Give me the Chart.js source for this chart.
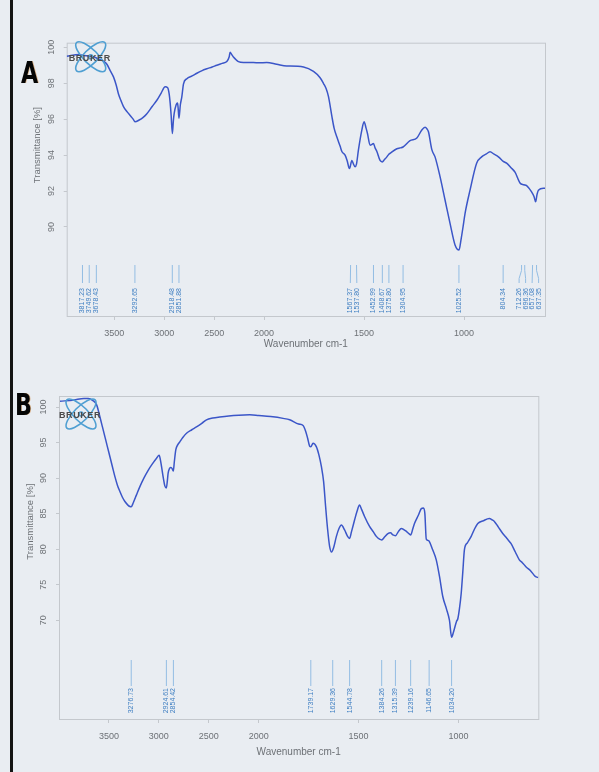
<!DOCTYPE html>
<html>
<head>
<meta charset="utf-8">
<script src="https://cdn.jsdelivr.net/npm/chart.js@4/dist/chart.umd.min.js"></script>
<style>
  html, body { margin: 0; padding: 0; }
  body { width: 599px; height: 772px; background: #e9edf2; position: relative; overflow: hidden;
         font-family: 'Liberation Sans', Arial, sans-serif; }
  .edge { position: absolute; left: 10px; top: 0; width: 3px; height: 772px; background: #141414; }
  .panel { position: absolute; left: 0; width: 599px; }
  #boxA { top: 0; height: 380px; }
  #boxB { top: 380px; height: 392px; }
  .letter { position: absolute; font-family: 'DejaVu Sans', sans-serif; font-weight: bold; font-size: 30px;
            line-height: 30px; color: #050505; transform: scaleX(0.74); transform-origin: left top;
            text-shadow: 1px 0 0 rgba(205,130,50,0.55); }
</style>
</head>
<body>
<div class="edge"></div>
<div class="panel" id="boxA"><canvas id="chartA"></canvas></div>
<div class="panel" id="boxB"><canvas id="chartB"></canvas></div>
<div class="letter" style="left:21px; top:58px;">A</div>
<div class="letter" style="left:15px; top:390px;">B</div>
<script>
// ---- data ----
const waveA = [3975, 3850, 3817, 3749, 3700, 3678, 3640, 3600, 3573, 3540,
  3507, 3480, 3457, 3430, 3407, 3370, 3340, 3310, 3292, 3250,
  3210, 3173, 3120, 3073, 3030, 2990, 2965, 2950, 2940, 2930,
  2918, 2908, 2900, 2880, 2866, 2860, 2852, 2838, 2823, 2807,
  2773, 2720, 2673, 2620, 2573, 2520, 2473, 2420, 2373, 2350,
  2340, 2325, 2307, 2280, 2257, 2207, 2150, 2107, 2050, 1987,
  1937, 1887, 1870, 1803, 1753, 1720, 1703, 1690, 1678, 1661,
  1650, 1636, 1620, 1611, 1595, 1585, 1573, 1561, 1553, 1545,
  1538, 1528, 1511, 1500, 1490, 1483, 1470, 1460, 1453, 1445,
  1436, 1420, 1409, 1398, 1386, 1376, 1370, 1336, 1320, 1305,
  1270, 1236, 1211, 1195, 1185, 1178, 1161, 1145, 1120, 1095,
  1070, 1045, 1025, 1015, 1005, 995, 970, 937, 912, 890,
  870, 850, 828, 804, 787, 765, 745, 720, 701, 687,
  662, 650, 642, 635, 628, 603, 595];
const transA = [99.5, 99.6, 99.55, 99.5, 99.45, 99.4, 99.3, 99.2, 99.05, 98.7,
  98.35, 97.9, 97.4, 97.0, 96.7, 96.4, 96.2, 96.0, 95.85, 95.95,
  96.1, 96.3, 96.7, 97.05, 97.45, 97.8, 97.75, 97.4, 96.9, 96.2,
  95.2, 95.9, 96.3, 96.8, 96.9, 96.6, 96.05, 96.8, 97.25, 97.95,
  98.25, 98.4, 98.55, 98.7, 98.8, 98.9, 99.0, 99.1, 99.2, 99.45,
  99.72, 99.6, 99.45, 99.3, 99.2, 99.15, 99.15, 99.15, 99.13, 99.15,
  99.05, 98.95, 98.95, 98.9, 98.65, 98.3, 97.98, 97.7, 97.25, 96.15,
  95.5, 95.0, 94.5, 94.2, 94.0, 93.7, 93.25, 93.7, 93.5, 93.35,
  93.5, 94.3, 95.4, 95.85, 95.5, 95.2, 94.55, 94.6, 94.65, 94.4,
  94.2, 93.7, 93.62, 93.75, 93.9, 94.05, 94.1, 94.35, 94.4, 94.45,
  94.8, 94.95, 95.4, 95.55, 95.45, 95.3, 94.3, 93.9, 92.8, 91.5,
  90.2, 89.0, 88.72, 89.3, 90.0, 90.75, 92.05, 93.55, 93.9, 94.05,
  94.18, 94.05, 93.9, 93.65, 93.55, 93.3, 93.05, 92.45, 92.35, 92.3,
  91.95, 91.7, 91.4, 91.8, 92.05, 92.15, 92.15];

const waveB = [3990, 3850, 3750, 3707, 3660, 3623, 3590, 3565, 3540, 3515,
  3490, 3465, 3440, 3415, 3390, 3365, 3340, 3310, 3290, 3277,
  3257, 3225, 3190, 3150, 3107, 3065, 3023, 2997, 2985, 2973,
  2955, 2940, 2925, 2915, 2907, 2895, 2883, 2870, 2855, 2845,
  2830, 2810, 2790, 2760, 2723, 2670, 2623, 2570, 2523, 2460,
  2390, 2300, 2200, 2090, 2000, 1940, 1878, 1845, 1800, 1778,
  1765, 1755, 1745, 1739, 1728, 1711, 1698, 1686, 1675, 1665,
  1655, 1645, 1635, 1625, 1611, 1598, 1586, 1570, 1555, 1545,
  1535, 1520, 1508, 1495, 1485, 1470, 1445, 1425, 1411, 1395,
  1384, 1370, 1353, 1340, 1328, 1315, 1300, 1286, 1265, 1245,
  1239, 1228, 1220, 1200, 1186, 1175, 1168, 1161, 1150, 1146,
  1130, 1111, 1095, 1078, 1060, 1045, 1034, 1025, 1010, 1003,
  995, 986, 978, 970, 955, 936, 920, 903, 875, 845,
  830, 820, 800, 778, 757, 737, 715, 695, 680, 661,
  640, 620, 611, 600];
const transB = [100.8, 101.0, 101.2, 101.2, 100.9, 100.3, 98.6, 97.2, 95.8, 94.4,
  93.0, 91.6, 90.2, 89.0, 88.1, 87.3, 86.7, 86.2, 86.0, 85.95,
  86.5, 87.6, 88.8, 90.0, 91.1, 92.0, 92.8, 93.2, 92.6, 91.6,
  90.0, 88.9, 88.6, 89.6, 90.7, 91.3, 91.5, 91.4, 91.0, 92.3,
  94.0, 94.7, 95.1, 95.7, 96.3, 96.8, 97.2, 97.7, 98.2, 98.45,
  98.6, 98.75, 98.85, 98.9, 98.8, 98.65, 98.4, 98.2, 97.6, 97.4,
  96.6, 95.6, 94.5, 94.4, 94.9, 94.4, 93.2, 91.6, 89.5, 86.0,
  82.8, 80.4, 79.6, 80.2, 81.8, 82.9, 83.4, 82.7, 81.8, 81.5,
  82.5, 84.1, 85.3, 86.2, 85.6, 84.6, 83.2, 82.4, 81.8, 81.4,
  81.3, 81.7, 82.2, 82.3, 82.0, 81.9, 82.5, 82.9, 82.6, 82.1,
  82.0, 82.9, 83.6, 84.8, 85.7, 85.8, 85.0, 81.4, 81.2, 81.1,
  80.0, 78.5, 76.2, 73.3, 71.6, 70.0, 67.6, 68.3, 69.8, 70.2,
  71.6, 73.8, 76.8, 79.9, 80.9, 81.8, 82.8, 83.6, 84.0, 84.3,
  84.1, 83.9, 83.1, 82.2, 81.5, 80.8, 79.6, 78.5, 78.1, 77.5,
  77.0, 76.3, 76.1, 76.0];

const peaksA = [3817.23, 3749.62, 3678.43, 3292.65, 2918.48, 2851.88, 1567.37, 1537.80,
  1452.99, 1408.67, 1375.80, 1304.95, 1025.52, 804.34, 712.26, 696.36, 657.08, 637.35];
const peaksB = [3276.73, 2924.61, 2854.42, 1739.17, 1629.36, 1544.78, 1384.26, 1315.39,
  1239.16, 1146.65, 1034.20];

const xTicks = [3500, 3000, 2500, 2000, 1500, 1000];
const yTicksA = [90, 92, 94, 96, 98, 100];
const yTicksB = [70, 75, 80, 85, 90, 95, 100];

// Bruker plots are stretched 2x below 2000 cm-1
const BREAK = 2000;
class WaveScale extends Chart.LinearScale {
  units(v) { return v >= BREAK ? this.max - v : (this.max - BREAK) + 2 * (BREAK - v); }
  getPixelForValue(v) { return this.getPixelForDecimal(this.units(v) / this.units(this.min)); }
  getValueForPixel(p) {
    const u = this.getDecimalForPixel(p) * this.units(this.min);
    const hi = this.max - BREAK;
    return u <= hi ? this.max - u : BREAK - (u - hi) / 2;
  }
}
WaveScale.id = 'wavenumber';
WaveScale.defaults = Chart.LinearScale.defaults;
Chart.register(WaveScale);

const tickGrey = '#6d7176';
const fontFam = "'Liberation Sans', Arial, sans-serif";

function spreadLabels(xs, gap) {
  let groups = xs.map(x => [x]);
  const place = g => {
    const c = g.reduce((a, b) => a + b, 0) / g.length;
    return g.map((_, i) => c + (i - (g.length - 1) / 2) * gap);
  };
  let merged = true;
  while (merged) {
    merged = false;
    for (let i = 0; i < groups.length - 1; i++) {
      const a = place(groups[i]), b = place(groups[i + 1]);
      if (b[0] - a[a.length - 1] < gap - 0.01) {
        groups.splice(i, 2, groups[i].concat(groups[i + 1]));
        merged = true;
        break;
      }
    }
  }
  return groups.flatMap(place);
}

function makeChart(id, waves, trans, peaks, yTicks, cfg) {
  const decor = {
    id: 'decor',
    beforeDatasetsDraw(chart) {
      const { ctx, chartArea: a } = chart;
      ctx.save();
      ctx.strokeStyle = '#c4c8cd';
      ctx.lineWidth = 1;
      ctx.strokeRect(a.left + 0.5, a.top + 0.5, a.right - a.left, a.bottom - a.top);
      ctx.restore();
    },
    afterDatasetsDraw(chart) {
      const { ctx, chartArea: a, scales } = chart;
      const x = scales.x, y = scales.y;
      ctx.save();
      // peak markers
      const px = peaks.map(p => x.getPixelForValue(p));
      const lx = spreadLabels(px, 6.5);
      const y0 = a.bottom - cfg.lineTop, y3 = a.bottom - cfg.lineBottom;
      ctx.strokeStyle = '#93bde3';
      ctx.lineWidth = 1;
      ctx.fillStyle = '#3f7fc2';
      ctx.font = '7px ' + fontFam;
      ctx.textAlign = 'right';
      ctx.textBaseline = 'middle';
      peaks.forEach((p, i) => {
        ctx.beginPath();
        ctx.moveTo(px[i], y0);
        if (Math.abs(lx[i] - px[i]) > 0.5) {
          ctx.lineTo(px[i], y0 + (y3 - y0) * 0.3);
          ctx.lineTo(lx[i], y0 + (y3 - y0) * 0.75);
        }
        ctx.lineTo(lx[i], y3);
        ctx.stroke();
        ctx.save();
        ctx.translate(lx[i], a.bottom - cfg.textTop);
        ctx.rotate(-Math.PI / 2);
        ctx.fillText(p.toFixed(2), 0, 0);
        ctx.restore();
      });
      // Bruker logo
      const cx = a.left + cfg.logo[0], cy = a.top + cfg.logo[1];
      ctx.strokeStyle = '#4f9fd2';
      ctx.lineWidth = 1.6;
      [Math.PI / 4, -Math.PI / 4].forEach(ang => {
        ctx.beginPath();
        ctx.ellipse(cx, cy, 20, 7, ang, 0, Math.PI * 2);
        ctx.stroke();
      });
      ctx.beginPath();
      ctx.arc(cx, cy, 2, 0, Math.PI * 2);
      ctx.stroke();
      ctx.fillStyle = '#4b4b4b';
      ctx.font = 'bold 9px ' + fontFam;
      ctx.textAlign = 'center';
      ctx.letterSpacing = '0.6px';
      ctx.fillText('BRUKER', cx - 1, cy + 2);
      ctx.letterSpacing = '0px';
      // rotated y tick labels and title
      ctx.fillStyle = tickGrey;
      ctx.font = '9px ' + fontFam;
      yTicks.forEach(v => {
        ctx.save();
        ctx.translate(a.left - 15.5, y.getPixelForValue(v));
        ctx.rotate(-Math.PI / 2);
        ctx.fillText(String(v), 0, 0);
        ctx.restore();
      });
      const mid = (y.getPixelForValue(yTicks[0]) + y.getPixelForValue(yTicks[yTicks.length - 1])) / 2 + 8;
      ctx.save();
      ctx.translate(a.left - 29, mid);
      ctx.rotate(-Math.PI / 2);
      ctx.font = '9.5px ' + fontFam;
      ctx.fillText('Transmittance [%]', 0, 0);
      ctx.restore();
      ctx.restore();
    }
  };

  return new Chart(document.getElementById(id), {
    type: 'line',
    data: {
      datasets: [{
        data: waves.map((w, i) => ({ x: w, y: trans[i] })),
        borderColor: '#3b56c8',
        borderWidth: 1.5,
        pointRadius: 0,
        cubicInterpolationMode: 'monotone',
        fill: false
      }]
    },
    options: {
      responsive: true,
      maintainAspectRatio: false,
      animation: false,
      layout: { padding: cfg.padding },
      plugins: { legend: { display: false }, tooltip: { enabled: false } },
      scales: {
        x: {
          type: 'wavenumber',
          min: cfg.xMin,
          max: cfg.xMax,
          afterBuildTicks: s => { s.ticks = xTicks.map(v => ({ value: v })); },
          afterFit: s => { s.height = cfg.xHeight; },
          grid: { drawOnChartArea: false, tickLength: 4, color: '#c4c8cd' },
          border: { display: false },
          ticks: { color: tickGrey, font: { size: 9, family: fontFam }, padding: 8,
                   maxRotation: 0, autoSkip: false, callback: v => String(v) },
          title: { display: true, text: 'Wavenumber cm-1', color: tickGrey,
                   font: { size: 10, family: fontFam }, padding: { top: 4, bottom: 4 } }
        },
        y: {
          min: cfg.yMin,
          max: cfg.yMax,
          afterBuildTicks: s => { s.ticks = yTicks.map(v => ({ value: v })); },
          afterFit: s => { s.width = cfg.yWidth; },
          grid: { drawOnChartArea: false, tickLength: 3, color: '#c4c8cd' },
          border: { display: false },
          ticks: { display: false }
        }
      }
    },
    plugins: [decor]
  });
}

makeChart('chartA', waveA, transA, peaksA, yTicksA, {
  padding: { left: 30, right: 54, top: 42.7, bottom: 25.6 },
  yWidth: 36.7, xHeight: 38.4,
  xMin: 595, xMax: 3975, yMin: 85.05, yMax: 100.25,
  lineTop: 51, lineBottom: 33, textTop: 28, logo: [24, 14]
});
makeChart('chartB', waveB, transB, peaksB, yTicksB, {
  padding: { left: 30, right: 60.7, top: 16, bottom: 10 },
  yWidth: 29, xHeight: 43,
  xMin: 600, xMax: 4000, yMin: 56.1, yMax: 101.55,
  lineTop: 59, lineBottom: 33, textTop: 31, logo: [22, 18]
});
</script>
</body>
</html>
